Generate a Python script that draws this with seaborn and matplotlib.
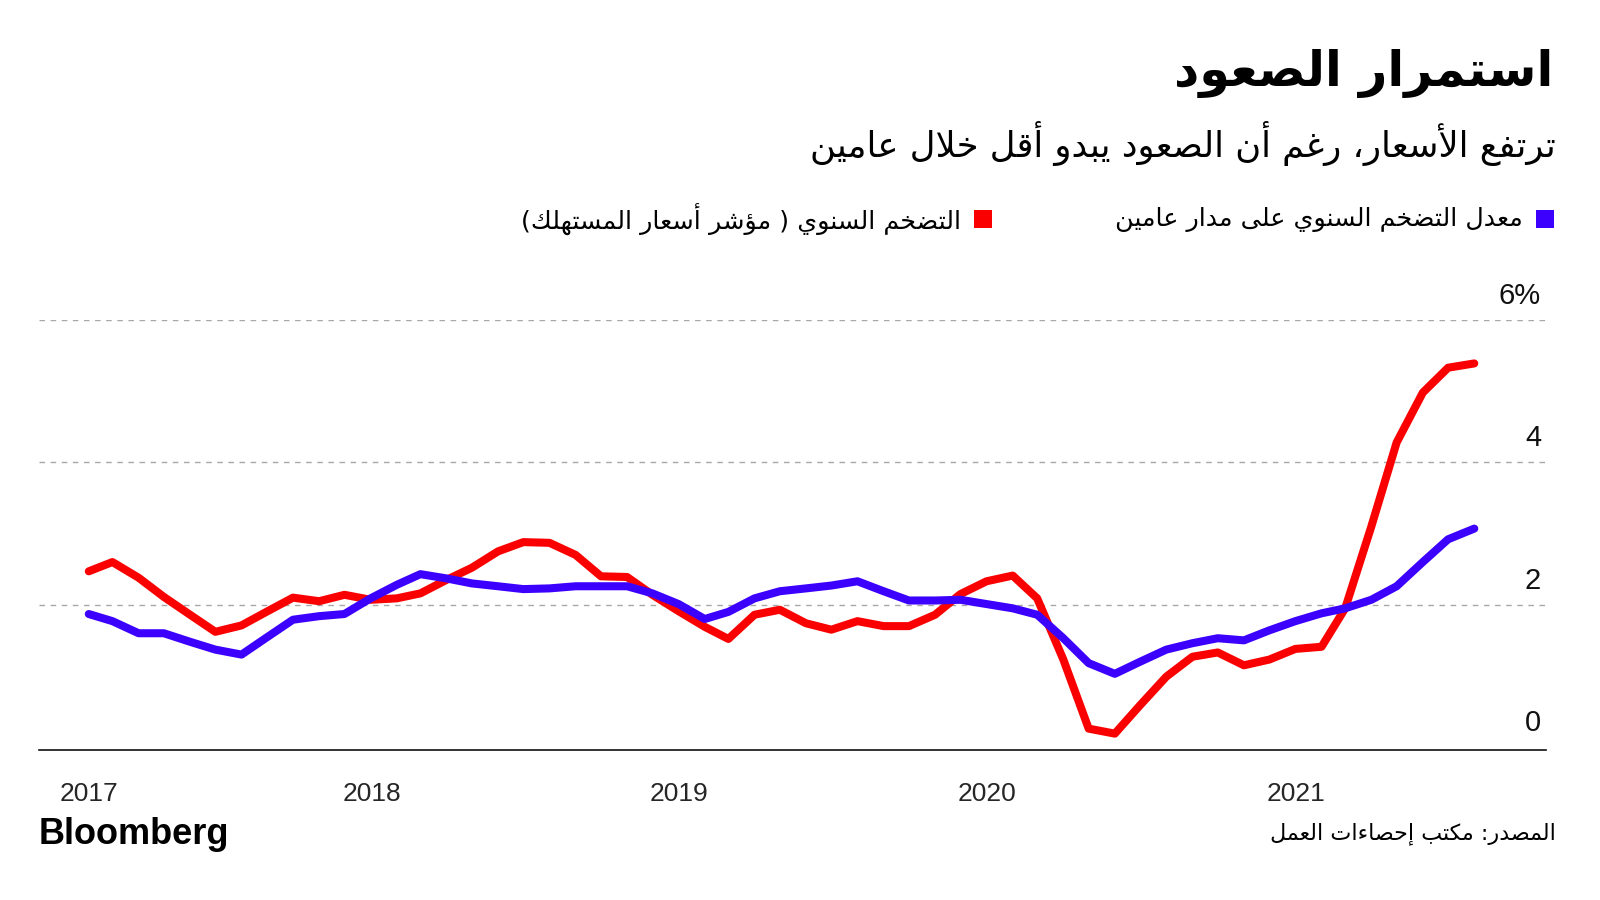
import matplotlib
matplotlib.use("Agg")
import matplotlib.pyplot as plt
import matplotlib.transforms as mtransforms
from matplotlib.patches import Rectangle
import pandas as pd
import seaborn as sns

# monthly readings, Jan 2017 .. Jul 2021
start_month = "2017-01-31"
cpi_yoy = [
    2.47, 2.60, 2.38, 2.11, 1.86, 1.62, 1.71, 1.91, 2.10, 2.05, 2.14, 2.07,
    2.09, 2.16, 2.35, 2.52, 2.75, 2.88, 2.87, 2.70, 2.40, 2.39, 2.14, 1.91,
    1.69, 1.52, 1.86, 1.93, 1.74, 1.65, 1.77, 1.70, 1.70, 1.86, 2.15, 2.33,
    2.41, 2.09, 1.23, 0.26, 0.19, 0.59, 0.99, 1.27, 1.33, 1.15, 1.23, 1.38,
    1.41, 1.95, 3.10, 4.28, 4.98, 5.33, 5.39,
]
two_year_rate = [
    1.87, 1.77, 1.60, 1.60, 1.48, 1.37, 1.30, 1.55, 1.79, 1.84, 1.87, 2.09,
    2.28, 2.43, 2.37, 2.30, 2.26, 2.22, 2.23, 2.26, 2.26, 2.26, 2.16, 2.01,
    1.80, 1.90, 2.09, 2.19, 2.23, 2.27, 2.33, 2.19, 2.06, 2.06, 2.07, 2.01,
    1.95, 1.86, 1.53, 1.18, 1.03, 1.20, 1.37, 1.46, 1.53, 1.50, 1.64, 1.77,
    1.88, 1.95, 2.07, 2.26, 2.60, 2.92, 3.07,
]
year_labels = ["2017", "2018", "2019", "2020", "2021"]
y_ticks = [0, 2, 4, 6]

TITLE = "استمرار الصعود"
SUBTITLE = "ترتفع الأسعار، رغم أن الصعود يبدو أقل خلال عامين"
LABEL_TWO_YEAR = "معدل التضخم السنوي على مدار عامين"
LABEL_CPI = "التضخم السنوي ( مؤشر أسعار المستهلك)"
SOURCE = "المصدر: مكتب إحصاءات العمل"

RED = "#fb0000"
BLUE = "#3c00ff"

# --- minimal arabic shaping (matplotlib has no shaping/bidi of its own) ---
DUAL = {"ب": 0xFE8F, "ت": 0xFE95, "ث": 0xFE99, "ج": 0xFE9D, "ح": 0xFEA1, "خ": 0xFEA5,
        "س": 0xFEB1, "ش": 0xFEB5, "ص": 0xFEB9, "ض": 0xFEBD, "ط": 0xFEC1, "ظ": 0xFEC5,
        "ع": 0xFEC9, "غ": 0xFECD, "ف": 0xFED1, "ق": 0xFED5, "ك": 0xFED9, "ل": 0xFEDD,
        "م": 0xFEE1, "ن": 0xFEE5, "ه": 0xFEE9, "ي": 0xFEF1, "ئ": 0xFE89}
RIGHT = {"آ": 0xFE81, "أ": 0xFE83, "ؤ": 0xFE85, "إ": 0xFE87, "ا": 0xFE8D, "ة": 0xFE93,
         "د": 0xFEA9, "ذ": 0xFEAB, "ر": 0xFEAD, "ز": 0xFEAF, "و": 0xFEED, "ى": 0xFEEF}
LAM_ALEF = {"آ": 0xFEF5, "أ": 0xFEF7, "إ": 0xFEF9, "ا": 0xFEFB}


def shape(text: str) -> str:
    units = []
    i = 0
    while i < len(text):
        if text[i] == "ل" and i + 1 < len(text) and text[i + 1] in LAM_ALEF:
            units.append(("LA", text[i + 1]))
            i += 2
        else:
            units.append(("C", text[i]))
            i += 1

    def links_forward(u):
        return u[0] == "C" and u[1] in DUAL

    def links_back(u):
        return u[0] == "LA" or u[1] in DUAL or u[1] in RIGHT

    out = []
    for k, u in enumerate(units):
        prev = units[k - 1] if k > 0 else None
        nxt = units[k + 1] if k + 1 < len(units) else None
        p = prev is not None and links_forward(prev) and links_back(u)
        n = nxt is not None and links_forward(u) and links_back(nxt)
        if u[0] == "LA":
            out.append(chr(LAM_ALEF[u[1]] + (1 if p else 0)))
        elif u[1] in DUAL:
            out.append(chr(DUAL[u[1]] + (3 if p and n else 1 if p else 2 if n else 0)))
        elif u[1] in RIGHT:
            out.append(chr(RIGHT[u[1]] + (1 if p else 0)))
        elif u[1] == "ء":
            out.append("\uFE80")
        else:
            out.append(u[1])
    return "".join(reversed(out)).translate(str.maketrans("()", ")("))


dates = pd.date_range(start_month, periods=len(cpi_yoy), freq="ME")
df = pd.concat([
    pd.DataFrame({"date": dates, "value": cpi_yoy, "series": "cpi"}),
    pd.DataFrame({"date": dates, "value": two_year_rate, "series": "two_year"}),
])

sns.set_style("white")
plt.rcParams["font.family"] = ["DejaVu Sans"]

fig = plt.figure(figsize=(16, 9), dpi=100)
ax = fig.add_axes([39 / 1600, 1 - 750 / 900, 1507 / 1600, 430 / 900])

sns.lineplot(data=df, x="date", y="value", hue="series", hue_order=["cpi", "two_year"],
             palette={"cpi": RED, "two_year": BLUE}, linewidth=5.8, legend=False, ax=ax)
for line in ax.lines:
    line.set_solid_capstyle("round")
    line.set_solid_joinstyle("round")

ax.set_xlim(dates[0] - pd.Timedelta(days=59), dates[-1] + pd.Timedelta(days=85))
ax.set_ylim(-0.04, 6)

for side in ["top", "left", "right"]:
    ax.spines[side].set_visible(False)
ax.spines["bottom"].set_linewidth(1.2)
ax.spines["bottom"].set_color("#111111")

ax.set_yticks([2, 4, 6])
ax.set_yticklabels([])
ax.tick_params(axis="y", length=0)
ax.grid(axis="y", color="#a8a8a8", linewidth=1, linestyle=(0, (4, 4)))
ax.grid(axis="x", visible=False)

tick_dates = [dates[0]] + [pd.Timestamp(f"{y}-01-01") for y in year_labels[1:]]
ax.set_xticks(tick_dates)
ax.set_xticklabels(year_labels, family="Liberation Sans", fontsize=19)
ax.tick_params(axis="x", direction="out", length=9, width=1, color="#111111", pad=14)
ax.set_xlabel("")
ax.set_ylabel("")

label_trans = mtransforms.offset_copy(ax.get_yaxis_transform(), fig=fig, y=10, units="dots")
for v in y_ticks:
    ax.text(0.9967, v, f"{v}%" if v == 6 else str(v), transform=label_trans,
            ha="right", va="bottom", fontsize=21, family="Liberation Sans", color="#111111")

fig.text(1553 / 1600, 1 - 73 / 900, shape(TITLE), ha="right", va="center",
         fontsize=35.5, fontweight="bold", color="black")
fig.text(1556 / 1600, 1 - 143 / 900, shape(SUBTITLE), ha="right", va="center",
         fontsize=25.5, color="black")

# legend, right to left
sq_w, sq_h = 18 / 1600, 18 / 900
for sq_right, txt_right, color, label in [
    (1554, 1523, BLUE, LABEL_TWO_YEAR),
    (992, 961, RED, LABEL_CPI),
]:
    fig.add_artist(Rectangle((sq_right / 1600 - sq_w, 1 - 219 / 900 - sq_h / 2), sq_w, sq_h,
                             transform=fig.transFigure, color=color, lw=0))
    fig.text(txt_right / 1600, 1 - 219 / 900, shape(label), ha="right", va="center",
             fontsize=18.3, color="black")

fig.text(39 / 1600, 1 - 835 / 900, "Bloomberg", ha="left", va="center",
         fontsize=26, fontweight="bold", family="Liberation Sans", color="black")
fig.text(1556 / 1600, 1 - 834 / 900, shape(SOURCE), ha="right", va="center",
         fontsize=16, color="black")

fig.savefig("out.png", dpi=100, facecolor="white")
